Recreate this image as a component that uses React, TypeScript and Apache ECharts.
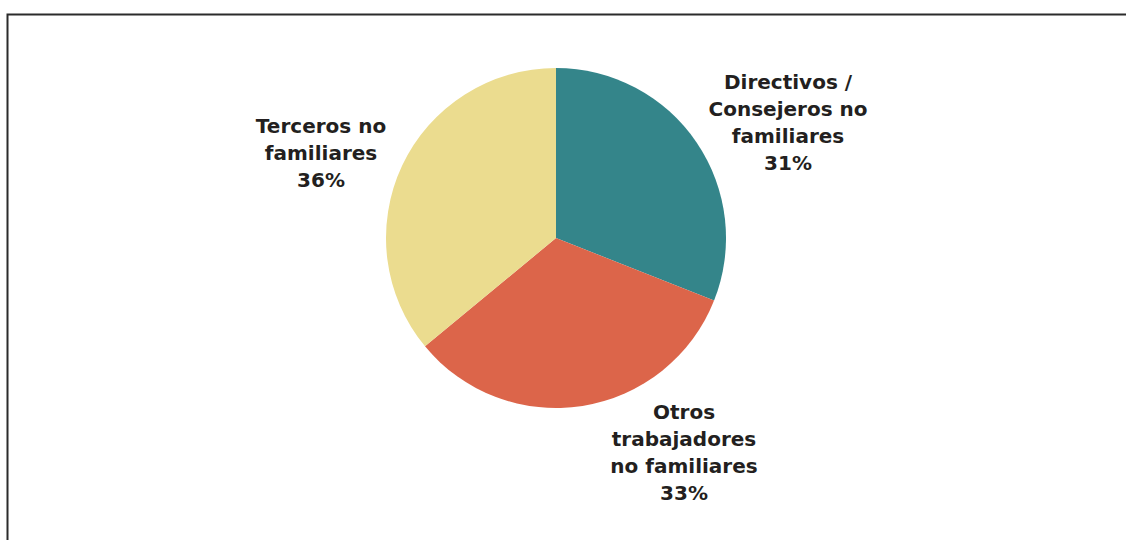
import React, { useEffect, useRef } from "react";
import * as echarts from "echarts";

const categories = [
  "Directivos /\nConsejeros no\nfamiliares",
  "Otros\ntrabajadores\nno familiares",
  "Terceros no\nfamiliares",
];
const values = [31, 33, 36];
const colors = ["#34858A", "#DC654A", "#EBDC8F"];
const labelPos = [
  [788, 122],
  [684, 452],
  [321, 153],
];

export default function App() {
  const ref = useRef<HTMLDivElement>(null);
  useEffect(() => {
    if (!ref.current) return;
    const chart = echarts.init(ref.current, undefined, { renderer: "svg" });
    chart.setOption({
      animation: false,
      backgroundColor: "#ffffff",
      graphic: [
        {
          type: "polyline",
          shape: { points: [[7.5, 545], [7.5, 14.5], [1126, 14.5]] },
          style: { stroke: "#2b2b2b", lineWidth: 2, fill: null },
        },
      ],
      series: [
        {
          type: "pie",
          center: [556, 238],
          radius: 170,
          startAngle: 90,
          clockwise: true,
          data: categories.map((n, i) => ({
            name: n,
            value: values[i],
            itemStyle: { color: colors[i] },
          })),
          label: {
            show: true,
            position: "outside",
            formatter: "{b}\n{c}%",
            fontFamily: "DejaVu Sans",
            fontWeight: "bold",
            fontSize: 20,
            lineHeight: 27,
            color: "#231f20",
            align: "center",
          },
          labelLine: { show: false },
          labelLayout: (p: any) => ({
            x: labelPos[p.dataIndex][0],
            y: labelPos[p.dataIndex][1],
            align: "center",
            verticalAlign: "middle",
          }),
          emphasis: { disabled: true },
        },
      ],
    });
    return () => chart.dispose();
  }, []);
  return (
    <div
      ref={ref}
      style={{ position: "fixed", left: 0, top: 0, width: 1127, height: 540 }}
    />
  );
}
